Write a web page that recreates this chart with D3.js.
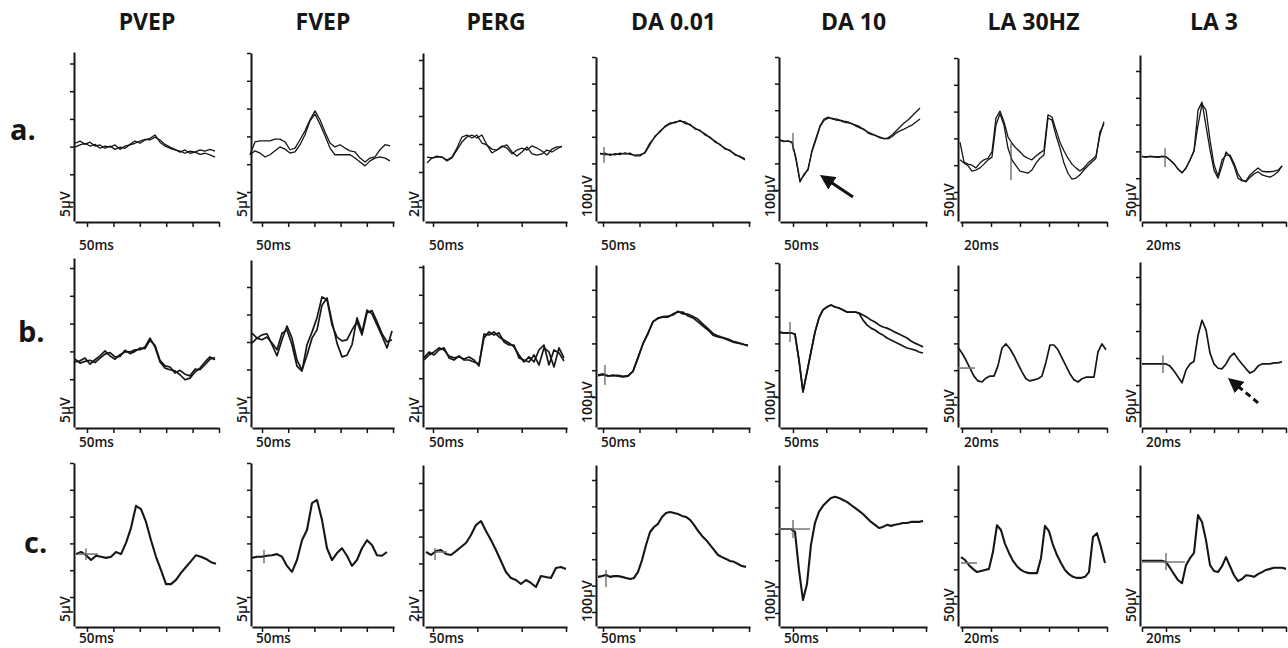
<!DOCTYPE html>
<html><head><meta charset="utf-8">
<script src="https://cdn.jsdelivr.net/npm/d3@7"></script>
<style>body{margin:0;background:#fff}svg{display:block}</style>
</head><body><svg id="c" width="1288" height="648"></svg>
<script>
// ---------- categories / labels ----------
const tests = ["PVEP","FVEP","PERG","DA 0.01","DA 10","LA 30HZ","LA 3"];
const rowNames = ["a.","b.","c."];
const ampLabels = ["5µV","5µV","2µV","100µV","100µV","50µV","50µV"];
const ampPerDiv = [5,5,2,100,100,50,50];
const timeLabels = ["50ms","50ms","50ms","50ms","50ms","20ms","20ms"];
const timeStep = [50,50,50,50,50,20,20];
const firstTick = [50,50,50,50,50,20,20];
const lastTick = [300,300,200,250,250,120,140];

// ---------- traces (µV above lowest amplitude tick) ----------
const aPVEP1 = [10.6,11.0,10.4,10.8,10.1,10.3,9.7,10.1,9.5,9.9,9.7,10.4,11.0,10.6,11.2,11.5,12.1,10.8,10.1,9.7,9.4,9.2,8.8,9.2,9.0,9.4,9.2,9.5,9.2];
const aPVEP2 = [9.9,10.3,10.6,10.1,10.4,9.7,10.1,9.9,10.3,9.5,10.1,10.3,10.6,11.0,11.3,11.2,11.7,11.2,10.4,9.9,9.5,9.0,9.4,8.8,9.0,8.6,8.8,8.5,8.1];
const aFVEP1 = [6.7,9.0,9.2,9.2,9.2,9.5,9.5,9.0,7.6,7.9,9.4,11.0,13.0,14.6,13.0,10.8,8.8,8.1,8.5,7.9,7.4,7.2,6.1,5.4,6.1,6.3,7.6,8.5,8.3];
const aFVEP2 = [6.7,7.4,7.0,6.3,6.7,7.4,8.1,7.7,7.0,7.2,8.5,10.3,12.8,14.0,12.2,10.1,7.9,6.7,6.7,6.7,6.7,6.1,5.4,4.7,5.6,6.1,6.3,6.1,5.6];
const aPERG1 = [3.07,3.0,3.14,3.07,2.86,3.07,3.71,4.5,4.64,4.43,4.64,4.07,3.93,3.64,3.57,3.86,3.71,3.29,3.57,3.71,3.57,3.86,3.71,3.5,3.21,3.64,3.79,3.79];
const aPERG2 = [2.64,3.0,3.07,3.07,2.79,3.0,3.57,4.14,4.5,4.64,4.43,4.64,3.93,3.36,3.57,3.79,3.93,3.43,3.14,3.43,3.79,3.29,3.21,3.29,3.57,3.43,3.64,3.86];
const aDA001_1 = [139,132,135,132,139,135,139,128,128,143,177,199,222,237,248,256,259,256,244,233,222,211,196,184,169,158,147,135,124,113];
const aDA001_2 = [135,139,130,137,133,140,134,131,133,139,170,203,218,240,252,252,262,250,247,229,225,207,199,180,172,154,150,131,127,117];
const aDA10_1 = [188,184,184,180,113,30,60,75,150,196,241,267,274,267,267,263,259,256,248,244,237,226,218,211,203,199,192,196,207,222,237,252,263,278,293,308];
const aDA10_2 = [186,182,185,178,120,35,55,80,145,190,238,262,270,270,263,261,255,252,250,240,233,229,214,208,205,196,194,192,200,214,222,229,237,244,256,267];
const aLA30_1 = [93,56,52,50,45,54,60,63,75,138,151,131,103,91,82,75,67,63,60,67,73,78,144,140,116,93,77,63,52,45,39,45,54,60,67,106,131];
const aLA30_2 = [60,54,49,39,41,45,52,60,65,125,146,125,82,60,49,39,37,35,41,54,63,69,138,134,106,82,54,35,24,26,32,41,49,56,63,112,127];
const aLA3_1 = [90,90,90,90,90,90,90,84,77,67,60,69,84,101,177,192,147,103,65,50,73,99,90,73,50,45,45,56,63,69,63,62,62,63,65,73];
const aLA3_2 = [91,89,91,90,89,91,90,84,77,67,60,69,84,101,149,188,177,121,75,54,84,93,93,78,58,47,43,52,58,62,56,54,52,56,62,73];

const bPVEP1 = [8.1,8.3,8.8,7.7,8.5,9.2,10.1,9.2,8.6,9.4,9.9,9.9,10.3,10.3,10.8,12.4,10.8,8.1,7.0,6.7,6.5,5.8,4.9,5.2,6.3,7.0,8.1,9.0,8.5];
const bPVEP2 = [8.6,7.9,8.2,8.4,8.0,8.8,9.5,9.8,9.0,9.1,10.2,9.6,10.0,10.6,10.5,12.0,11.1,8.4,7.4,7.2,6.1,6.6,5.9,5.6,6.8,6.7,7.6,8.6,8.9];
const bFVEP1 = [11.6,10.7,11.3,11.5,9.5,7.5,10.4,12.9,10.7,6.7,4.9,7.6,10.7,12.2,16.7,18.0,13.7,9.8,7.3,7.6,9.5,14.4,11.8,15.8,15.1,13.1,11.1,8.9,12.0];
const bFVEP2 = [9.8,10.7,10.4,10.9,9.8,8.6,11.6,12.2,9.5,5.6,4.7,9.5,11.8,14.4,18.2,17.7,13.1,10.9,10.2,10.4,12.2,13.7,11.3,15.3,15.7,13.7,11.5,10.0,10.4];
const bPERG1 = [3.31,3.67,3.89,4.18,4.03,3.6,3.46,3.53,3.38,3.53,3.31,2.88,5.18,5.11,5.33,4.97,4.75,4.54,4.25,3.67,3.17,3.53,3.17,4.03,4.39,2.95,4.03,3.82,3.24];
const bPERG2 = [3.46,3.89,3.67,4.03,4.18,3.46,3.31,3.6,3.31,3.31,3.17,3.02,4.9,5.33,5.11,5.26,4.61,4.39,4.39,3.46,3.31,3.17,3.67,2.95,4.18,3.89,2.81,4.18,3.46];
const bDA001_1 = [82,86,78,82,78,75,78,97,149,198,239,280,295,298,298,310,317,317,302,295,280,265,250,231,224,220,213,205,201,198,190];
const bDA001_2 = [80,83,80,79,81,77,80,95,145,200,236,282,293,300,302,306,320,310,309,300,290,272,255,237,228,222,216,208,203,196,194];
const bDA10_1 = [242,239,239,239,235,138,19,93,168,242,295,325,336,343,336,332,325,317,317,317,313,306,298,287,280,269,261,257,250,242,235,228,220,209,201,194,187];
const bDA10_2 = [242,239,239,239,235,138,19,93,168,242,295,325,336,343,336,332,325,317,317,317,313,287,269,257,250,239,231,220,213,205,198,190,183,179,175,168,164];
const bLA30 = [93,82,69,54,39,30,28,35,39,39,58,91,99,90,77,62,47,34,30,32,34,39,65,97,97,88,73,58,43,32,28,34,37,37,37,84,99,88];
const bLA3 = [89,89,89,89,89,89,89,85,76,65,54,78,89,94,142,170,152,109,89,81,80,89,102,109,98,89,80,72,76,85,89,89,89,91,91,93];

const cPVEP = [8.0,8.4,7.8,6.9,7.7,7.5,7.3,7.5,8.4,8.0,10.1,12.9,17.0,16.4,14.0,10.6,7.5,5.0,2.4,2.4,3.2,4.5,5.6,6.7,7.8,7.5,7.1,6.5,6.2];
const cFVEP = [7.3,7.5,7.5,7.7,7.8,8.0,7.5,5.8,4.7,6.9,10.6,12.5,17.5,18.1,14.4,9.1,6.9,8.2,9.1,7.7,5.8,6.9,9.1,10.6,9.7,7.8,7.7,8.4];
const cPERG = [4.85,4.63,4.92,5.0,4.7,4.63,4.92,5.22,5.52,6.12,6.86,7.16,6.42,5.74,5.0,4.18,3.36,2.91,2.76,2.46,2.76,2.54,2.24,3.06,2.98,2.91,3.66,3.73,3.58];
const cDA001 = [133,136,140,133,136,136,133,129,125,129,152,197,254,303,322,334,360,375,379,375,371,364,360,349,330,307,288,273,254,235,216,208,201,193,190,182,174,171];
const cDA10 = [318,318,318,318,307,163,49,110,258,341,383,406,421,436,440,436,428,421,409,398,387,375,360,345,334,322,326,334,330,334,337,341,341,345,345,345,349];
const cLA30 = [73,68,58,51,45,47,49,51,83,133,124,98,81,66,56,49,45,43,43,43,71,132,122,96,77,62,49,41,36,34,34,36,45,111,118,92,62];
const cLA3 = [66,66,66,66,66,66,64,53,41,30,24,58,71,81,152,139,105,58,47,45,56,73,56,39,28,32,39,38,36,41,45,49,51,53,53,53,51];

// time span (ms) of each row's traces, per test
const spansA = [[27.3,292.4],[27.1,294.3],[43.2,195.4],[45.9,244.5],[30.5,241.0],[18.6,117.9],[20,136.7]];
const spansB = [[27.3,292.4],[30.9,298.1],[39.9,197.7],[43.2,248.6],[28.9,245.5],[17.2,119.3],[20,136.7]];
const spansC = [[29.2,294.3],[30.9,288.5],[42.1,199.9],[43.2,245.9],[28.9,245.5],[19.3,118.6],[20,140]];

// stimulus onset markers: [row, test, time ms, µV low, µV high]
const stimMarks = [[0,3,51.4,102,162],[0,4,50,150,214],[0,5,53.8,22,91],[0,6,39.2,71,106],
  [1,3,52.7,45,119],[1,4,45.5,205,280],[1,6,37.5,72,105],
  [2,0,48.1,6.9,9.1],[2,1,53.8,6.3,8.8],[2,2,52.3,4.25,5.15],[2,3,54.1,95,159],[2,4,50,284,352],[2,6,40,49,81]];
// pre-stimulus baseline marks: [row, test, t start, t end, µV]
const baseMarks = [[1,5,17.2,29,54],[2,0,33,70.8,8.0],[2,2,52.3,65.8,4.85],[2,4,28.9,75.6,318],[2,5,19.3,30.3,62],[2,6,20,55.8,64]];
// arrows: [row, test, tail t, tail µV, head t, head µV, dashed]
const arrows = [[0,4,140.2,-26,90.6,56,false],[1,6,116.7,17,91.7,63,true]];

const traces = [
  [[aPVEP1,aPVEP2],[aFVEP1,aFVEP2],[aPERG1,aPERG2],[aDA001_1,aDA001_2],[aDA10_1,aDA10_2],[aLA30_1,aLA30_2],[aLA3_1,aLA3_2]],
  [[bPVEP1,bPVEP2],[bFVEP1,bFVEP2],[bPERG1,bPERG2],[bDA001_1,bDA001_2],[bDA10_1,bDA10_2],[bLA30],[bLA3]],
  [[cPVEP],[cFVEP],[cPERG],[cDA001],[cDA10],[cLA30],[cLA3]]
];
const spans = [spansA, spansB, spansC];

// ---------- layout ----------
const colLayout = [
  {ax:74, x0:75, t0:87, t1:219, x1:219},
  {ax:251, x0:252, t0:262, t1:393, x1:394},
  {ax:423, x0:425, t0:433, t1:566, x1:567},
  {ax:596, x0:597, t0:603, t1:749, x1:750},
  {ax:779, x0:780, t0:793, t1:926, x1:927},
  {ax:958, x0:960, t0:962, t1:1107, x1:1107},
  {ax:1140, x0:1142, t0:1142, t1:1286, x1:1286}
];
const rowLayout = [
  {top:[52,53,53,57,57,58,55], base:222, tick0:[202,192,200,190,190,192,205], sp:[27.7,27.8,28,26.6,26.6,26.8,26.8], lab:250, nameY:140, nameX:10, sw:1.3},
  {top:[258,260,265,265,263,265,262], base:428, tick0:[407,397,406,397,397,397,412], sp:[27.8,27.5,27.8,26.8,26.8,26.8,27], lab:447, nameY:342, nameX:18, sw:1.7},
  {top:[463,463,465,465,465,465,465], base:627, tick0:[597,597,617,612,613,596,596], sp:[26.8,26.8,26.8,26.4,26.4,26.6,26.6], lab:643, nameY:553, nameX:24, sw:2.1}
];

const svg = d3.select("#c");
const ink = "#161616";
const FONT = "'Open Sans', 'Noto Sans', sans-serif";

const defs = svg.append("defs");
defs.append("marker").attr("id","ah").attr("viewBox","0 0 10 10").attr("refX",3.3).attr("refY",5)
  .attr("markerWidth",5).attr("markerHeight",5).attr("orient","auto")
  .append("path").attr("d","M0,0 L10,5 L0,10 Z").attr("fill","#111");

// headers
tests.forEach((t,c) => {
  const L = colLayout[c];
  svg.append("text").attr("x",(L.x0+L.x1)/2).attr("y",30).attr("text-anchor","middle")
    .attr("font-family",FONT).attr("font-weight",700).attr("font-size",23).attr("fill",ink).text(t);
});

const scales = {};
rowNames.forEach((rn, r) => {
  const R = rowLayout[r];
  svg.append("text").attr("x",R.nameX).attr("y",R.nameY).attr("font-family",FONT)
    .attr("font-weight",700).attr("font-size",29).attr("fill",ink).text(rn);

  tests.forEach((t, c) => {
    const L = colLayout[c];
    const g = svg.append("g");
    const s = ampPerDiv[c];
    const x = d3.scaleLinear().domain([firstTick[c], lastTick[c]]).range([L.t0, L.t1]);
    x.domain([x.invert(L.x0), x.invert(L.x1)]).range([L.x0, L.x1]);
    const y = d3.scaleLinear().domain([0, s]).range([R.tick0[c], R.tick0[c] - R.sp[c]]);
    y.domain([y.invert(R.base - 1), y.invert(R.top[c])]).range([R.base - 1, R.top[c]]);
    scales[r + "_" + c] = {x, y};

    const yTicks = d3.range(0, 6).map(k => k * s).filter(v => v <= y.domain()[1] + 1e-6);
    const ya = g.append("g").attr("transform", `translate(${L.ax},0)`)
      .call(d3.axisLeft(y).tickValues(yTicks).tickSize(4).tickSizeOuter(0).tickFormat(""));
    const xTicks = d3.range(firstTick[c], lastTick[c] + 1e-6, timeStep[c]);
    const xa = g.append("g").attr("transform", `translate(0,${R.base})`)
      .call(d3.axisBottom(x).tickValues(xTicks).tickSize(5).tickSizeOuter(0).tickFormat(""));
    [ya, xa].forEach(a => {
      a.select(".domain").attr("stroke", ink).attr("stroke-width", 2);
      a.selectAll(".tick line").attr("stroke", ink).attr("stroke-width", 1.5);
    });

    // amplitude label
    g.append("text").attr("transform", `translate(${L.ax - 4},${R.base - 5}) rotate(-90)`)
      .attr("font-family", FONT).attr("font-weight", 600).attr("font-size", 14).attr("fill", ink)
      .text(ampLabels[c]);
    // time label
    g.append("text").attr("x", L.x0 + 4).attr("y", R.lab).attr("font-family", FONT)
      .attr("font-weight", 600).attr("font-size", 13.5).attr("fill", ink).text(timeLabels[c]);

    // traces
    const [ts, te] = spans[r][c];
    traces[r][c].forEach(vals => {
      const n = vals.length;
      const pts = vals.map((v, i) => [ts + i * (te - ts) / (n - 1), v]);
      g.append("path").datum(pts)
        .attr("d", d3.line().x(d => x(d[0])).y(d => y(d[1])))
        .attr("fill", "none").attr("stroke", ink).attr("stroke-width", R.sw)
        .attr("stroke-linejoin", "round");
    });
  });
});

// baseline marks
baseMarks.forEach(([r, c, t0, t1, v]) => {
  const {x, y} = scales[r + "_" + c];
  svg.append("line").attr("x1", x(t0)).attr("x2", x(t1)).attr("y1", y(v)).attr("y2", y(v))
    .attr("stroke", "#777").attr("stroke-width", 1.6);
});
// stimulus marks
stimMarks.forEach(([r, c, t, v0, v1]) => {
  const {x, y} = scales[r + "_" + c];
  svg.append("line").attr("x1", x(t)).attr("x2", x(t)).attr("y1", y(v0)).attr("y2", y(v1))
    .attr("stroke", "#555").attr("stroke-width", 1.2);
});
// arrows (line stops short of the head so the marker tip lands on it)
arrows.forEach(([r, c, ta, va, tb, vb, dashed]) => {
  const {x, y} = scales[r + "_" + c];
  const ax = x(ta), ay = y(va), bx = x(tb), by = y(vb);
  const len = Math.hypot(bx - ax, by - ay), k = (len - 10) / len;
  svg.append("line").attr("x1", ax).attr("y1", ay)
    .attr("x2", ax + (bx - ax) * k).attr("y2", ay + (by - ay) * k)
    .attr("stroke", "#111").attr("stroke-width", 3)
    .attr("stroke-dasharray", dashed ? "6,4" : null)
    .attr("marker-end", "url(#ah)");
});
</script></body></html>
